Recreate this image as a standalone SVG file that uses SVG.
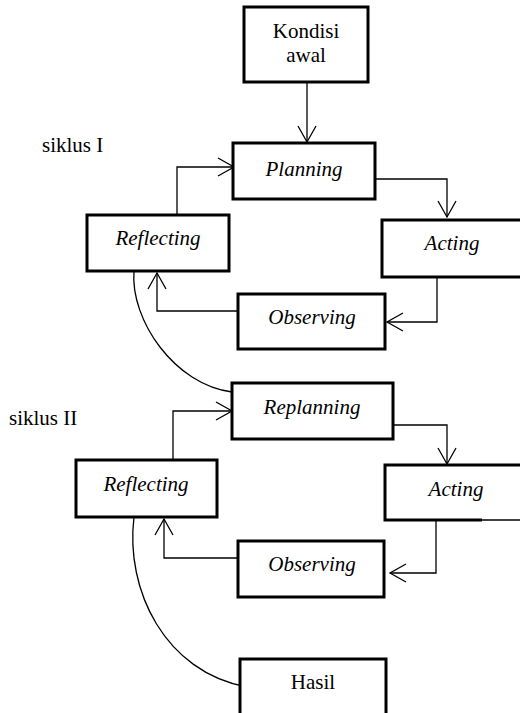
<svg xmlns="http://www.w3.org/2000/svg" width="520" height="713" viewBox="0 0 520 713">
<style>
.box{fill:#fff;stroke:#000;stroke-width:3}
.t{font-family:"Liberation Serif","Times New Roman",serif;font-size:21px;fill:#000;text-anchor:middle}
.i{font-style:italic}
.lbl{font-family:"Liberation Serif","Times New Roman",serif;font-size:21px;fill:#000}
.c{fill:none;stroke:#000;stroke-width:1.3}
.a{marker-end:url(#arr)}
</style>
<defs>
<marker id="arr" markerUnits="userSpaceOnUse" markerWidth="24" markerHeight="24" viewBox="-18 -12 24 24" refX="0" refY="0" orient="auto" overflow="visible">
<path d="M-16,-9 L0,0 L-16,9" fill="none" stroke="#000" stroke-width="1.3"/>
</marker>
</defs>
<rect width="520" height="713" fill="#fff"/>
<g id="connectors">
<path class="c a" d="M307,82 V142"/>
<path class="c a" d="M375,179 H447 V217"/>
<path class="c a" d="M437,277 V322 H387"/>
<path class="c a" d="M238,311 H157 V273"/>
<path class="c a" d="M177,215 V167 H234"/>
<path class="c" d="M134,271 C130,320 175,385 232,392"/>
<path class="c a" d="M393,425 H447 V464"/>
<path class="c a" d="M436,520 V573 H390"/>
<path class="c a" d="M238,558 H164 V519"/>
<path class="c a" d="M173,460 V411 H232"/>
<path class="c" d="M134,517 C125,590 165,672 247,687"/>
</g>
<g id="siklus1"><text class="lbl" x="42" y="152">siklus I</text></g>
<g id="siklus2"><text class="lbl" x="9" y="425">siklus II</text></g>
<g id="kondisi">
<rect class="box" x="244" y="7" width="124" height="75"/>
<text class="t" x="306" y="38">Kondisi</text>
<text class="t" x="306" y="62">awal</text>
</g>
<g id="planning">
<rect class="box" x="233" y="143" width="142" height="56"/>
<text class="t i" x="304" y="176">Planning</text>
</g>
<g id="reflecting1">
<rect class="box" x="87" y="215" width="142" height="56"/>
<text class="t i" x="158" y="245">Reflecting</text>
</g>
<g id="acting1">
<rect class="box" x="382" y="220" width="145" height="57"/>
<text class="t i" x="452" y="250">Acting</text>
</g>
<g id="observing1">
<rect class="box" x="238" y="294" width="147" height="55"/>
<text class="t i" x="312" y="324">Observing</text>
</g>
<g id="replanning">
<rect class="box" x="232" y="383" width="161" height="56"/>
<text class="t i" x="312" y="414">Replanning</text>
</g>
<g id="reflecting2">
<rect class="box" x="76" y="460" width="141" height="57"/>
<text class="t i" x="146" y="491">Reflecting</text>
</g>
<g id="acting2">
<path d="M527,465 H385 V520 H482" fill="#fff" stroke="#000" stroke-width="3"/>
<path d="M482,520 H520" stroke="#000" stroke-width="1.5" fill="none"/>
<text class="t i" x="456" y="496">Acting</text>
</g>
<g id="observing2">
<rect class="box" x="238" y="541" width="146" height="56"/>
<text class="t i" x="312" y="571">Observing</text>
</g>
<g id="hasil">
<rect class="box" x="240" y="659" width="146" height="64"/>
<text class="t" x="313" y="689">Hasil</text>
</g>
</svg>
